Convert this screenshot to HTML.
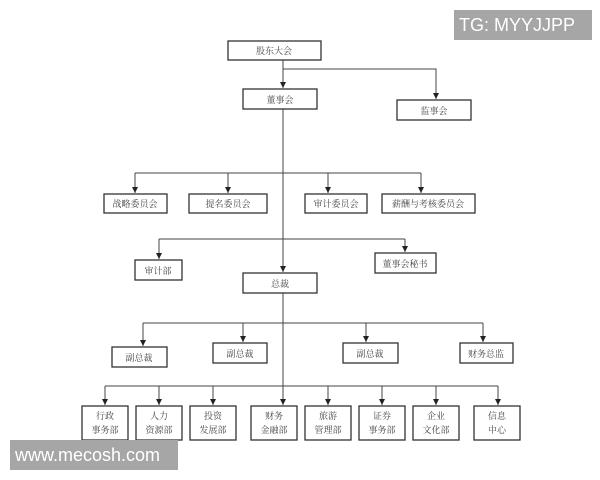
<!DOCTYPE html>
<html><head><meta charset="utf-8"><style>
body{margin:0;background:#fff;width:600px;height:480px;overflow:hidden;position:relative}
svg{position:absolute;left:0;top:0}
text{font-family:"Liberation Sans","Noto Serif CJK SC","Noto Sans CJK SC",serif;font-size:9px;fill:#444;text-anchor:middle}
.wm{position:absolute;background:#a6a6a6;color:#fff;font-family:"Liberation Sans",sans-serif}
</style></head><body>
<svg width="600" height="480" viewBox="0 0 600 480">
<defs><marker id="a" markerWidth="7" markerHeight="6" refX="6" refY="3" orient="auto" markerUnits="userSpaceOnUse"><path d="M0,0 L6,3 L0,6 z" fill="#222"/></marker></defs>
<g stroke="#444" stroke-width="1" fill="none">
<line x1="283" y1="60" x2="283" y2="88" marker-end="url(#a)"/>
<polyline points="283,69 436,69 436,99" marker-end="url(#a)"/>
<line x1="283" y1="109" x2="283" y2="272" marker-end="url(#a)"/>
<line x1="135" y1="173" x2="421" y2="173"/>
<line x1="135" y1="173" x2="135" y2="193" marker-end="url(#a)"/>
<line x1="228" y1="173" x2="228" y2="193" marker-end="url(#a)"/>
<line x1="328" y1="173" x2="328" y2="193" marker-end="url(#a)"/>
<line x1="421" y1="173" x2="421" y2="193" marker-end="url(#a)"/>
<line x1="159" y1="239" x2="405" y2="239"/>
<line x1="159" y1="239" x2="159" y2="259" marker-end="url(#a)"/>
<line x1="405" y1="239" x2="405" y2="252" marker-end="url(#a)"/>
<line x1="283" y1="293" x2="283" y2="405" marker-end="url(#a)"/>
<line x1="143" y1="323" x2="483" y2="323"/>
<line x1="143" y1="323" x2="143" y2="346" marker-end="url(#a)"/>
<line x1="243" y1="323" x2="243" y2="342" marker-end="url(#a)"/>
<line x1="366" y1="323" x2="366" y2="342" marker-end="url(#a)"/>
<line x1="483" y1="323" x2="483" y2="342" marker-end="url(#a)"/>
<line x1="105" y1="386" x2="498" y2="386"/>
<line x1="105" y1="386" x2="105" y2="405" marker-end="url(#a)"/>
<line x1="159" y1="386" x2="159" y2="405" marker-end="url(#a)"/>
<line x1="213" y1="386" x2="213" y2="405" marker-end="url(#a)"/>
<line x1="328" y1="386" x2="328" y2="405" marker-end="url(#a)"/>
<line x1="382" y1="386" x2="382" y2="405" marker-end="url(#a)"/>
<line x1="436" y1="386" x2="436" y2="405" marker-end="url(#a)"/>
<line x1="498" y1="386" x2="498" y2="405" marker-end="url(#a)"/>
</g>
<g stroke="#333" stroke-width="1.3" fill="#fff">
<rect x="228" y="41" width="93" height="19"/>
<rect x="243" y="89" width="74" height="20"/>
<rect x="397" y="100" width="74" height="20"/>
<rect x="104" y="194" width="63" height="19"/>
<rect x="189" y="194" width="78" height="19"/>
<rect x="305" y="194" width="62" height="19"/>
<rect x="382" y="194" width="93" height="19"/>
<rect x="135" y="260" width="47" height="20"/>
<rect x="375" y="253" width="61" height="20"/>
<rect x="243" y="273" width="74" height="20"/>
<rect x="112" y="347" width="55" height="20"/>
<rect x="213" y="343" width="54" height="20"/>
<rect x="343" y="343" width="55" height="20"/>
<rect x="460" y="343" width="53" height="20"/>
<rect x="82" y="406" width="46" height="34"/>
<rect x="136" y="406" width="46" height="34"/>
<rect x="190" y="406" width="46" height="34"/>
<rect x="251" y="406" width="46" height="34"/>
<rect x="305" y="406" width="46" height="34"/>
<rect x="359" y="406" width="46" height="34"/>
<rect x="413" y="406" width="46" height="34"/>
<rect x="474" y="406" width="46" height="34"/>
</g>
<text x="274" y="54">股东大会</text>
<text x="280" y="103">董事会</text>
<text x="434" y="114">监事会</text>
<text x="135" y="207">战略委员会</text>
<text x="228" y="207">提名委员会</text>
<text x="336" y="207">审计委员会</text>
<text x="428" y="207">薪酬与考核委员会</text>
<text x="158" y="274">审计部</text>
<text x="405" y="267">董事会秘书</text>
<text x="280" y="287">总裁</text>
<text x="139" y="361">副总裁</text>
<text x="240" y="357">副总裁</text>
<text x="370" y="357">副总裁</text>
<text x="486" y="357">财务总监</text>
<text x="105" y="419">行政</text><text x="105" y="433">事务部</text>
<text x="159" y="419">人力</text><text x="159" y="433">资源部</text>
<text x="213" y="419">投资</text><text x="213" y="433">发展部</text>
<text x="274" y="419">财务</text><text x="274" y="433">金融部</text>
<text x="328" y="419">旅游</text><text x="328" y="433">管理部</text>
<text x="382" y="419">证券</text><text x="382" y="433">事务部</text>
<text x="436" y="419">企业</text><text x="436" y="433">文化部</text>
<text x="497" y="419">信息</text><text x="497" y="433">中心</text>
</svg>
<div class="wm" style="left:454px;top:10px;width:138px;height:30px;font-size:18px;line-height:30px;padding-left:5px;box-sizing:border-box">TG: MYYJJPP</div>
<div class="wm" style="left:10px;top:440px;width:168px;height:30px;font-size:18px;line-height:30px;padding-left:5px;box-sizing:border-box">www.mecosh.com</div>
</body></html>
